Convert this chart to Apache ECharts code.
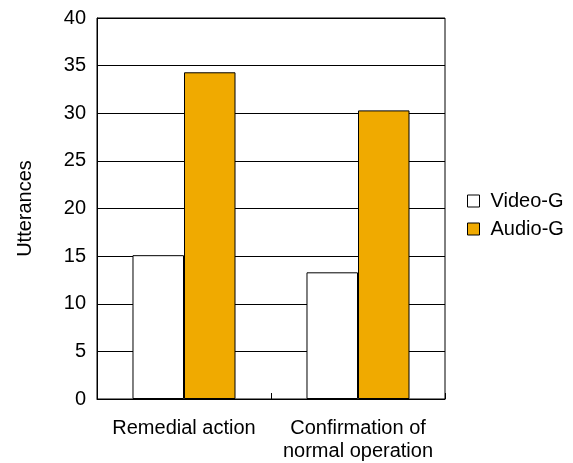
<!DOCTYPE html>
<html><head><meta charset="utf-8">
<script src="https://cdn.jsdelivr.net/npm/echarts@6/dist/echarts.min.js"></script>
<style>html,body{margin:0;padding:0;background:#fff}#c{width:573px;height:463px}</style>
</head><body><div id="c"></div>
<script>
const categories = ['Remedial action', 'Confirmation of\nnormal operation'];
const videoG = [15.1, 13.3];
const audioG = [34.3, 30.3];
const yTicks = [0, 5, 10, 15, 20, 25, 30, 35, 40];

const chart = echarts.init(document.getElementById('c'));
const font = 'Liberation Sans, Arial, Helvetica, sans-serif';
chart.setOption({
  animation: false,
  backgroundColor: '#fff',
  textStyle: { fontFamily: font },
  grid: { left: 97, right: 128, top: 18, bottom: 64, show: true, borderColor: '#000', borderWidth: 1, containLabel: false, outerBoundsMode: 'none' },
  legend: {
    orient: 'vertical', left: 462, top: 186, itemGap: 8,
    itemWidth: 12, itemHeight: 12, icon: 'rect',
    itemStyle: { borderWidth: 1, borderColor: '#000' },
    textStyle: { fontSize: 20, color: '#000', fontFamily: font, padding: [0, 0, 0, 6] },
    data: ['Video-G', 'Audio-G']
  },
  xAxis: {
    type: 'category', data: categories,
    axisLine: { show: true, lineStyle: { color: '#000' } },
    axisTick: { show: true, inside: true, length: 6, lineStyle: { color: '#000' } },
    axisLabel: { fontSize: 20, color: '#000', margin: 18, lineHeight: 23, fontFamily: font, interval: 0 },
    splitLine: { show: false }
  },
  yAxis: {
    type: 'value', min: yTicks[0], max: yTicks[yTicks.length - 1], interval: 5,
    name: 'Utterances', nameLocation: 'middle', nameGap: 62, nameRotate: 90,
    nameTextStyle: { fontSize: 20, color: '#000', fontFamily: font },
    axisLine: { show: true, lineStyle: { color: '#000' } },
    axisTick: { show: false },
    axisLabel: { fontSize: 20, color: '#000', margin: 11, fontFamily: font },
    splitLine: { show: true, lineStyle: { color: '#000', width: 1 } }
  },
  series: [
    { name: 'Video-G', type: 'bar', data: videoG, barWidth: '29.6%', barGap: '0%',
      itemStyle: { color: '#ffffff', borderColor: '#000', borderWidth: 1 } },
    { name: 'Audio-G', type: 'bar', data: audioG, barWidth: '29.6%', barGap: '0%',
      itemStyle: { color: '#F0AA00', borderColor: '#000', borderWidth: 1 } }
  ]
});
</script></body></html>
